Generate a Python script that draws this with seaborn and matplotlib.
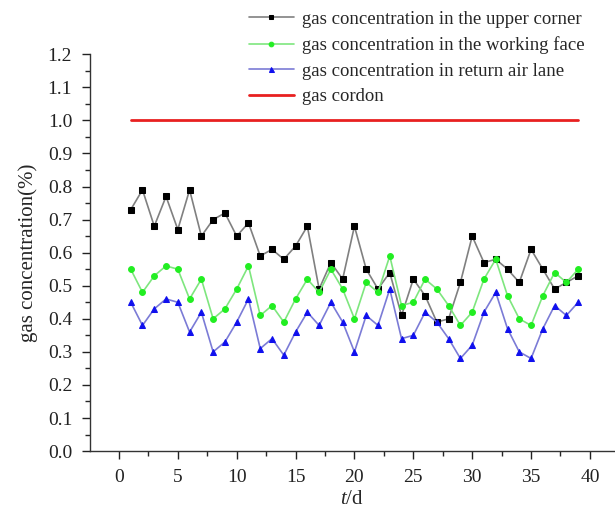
import matplotlib
matplotlib.use("Agg")
import matplotlib.pyplot as plt
import seaborn as sns
import numpy as np
import pandas as pd
from matplotlib.ticker import MultipleLocator

days = list(range(1, 40))
upper_corner = [0.73, 0.79, 0.68, 0.77, 0.67, 0.79, 0.65, 0.70, 0.72, 0.65,
                0.69, 0.59, 0.61, 0.58, 0.62, 0.68, 0.49, 0.57, 0.52, 0.68,
                0.55, 0.49, 0.54, 0.41, 0.52, 0.47, 0.39, 0.40, 0.51, 0.65,
                0.57, 0.58, 0.55, 0.51, 0.61, 0.55, 0.49, 0.51, 0.53]
working_face = [0.55, 0.48, 0.53, 0.56, 0.55, 0.46, 0.52, 0.40, 0.43, 0.49,
                0.56, 0.41, 0.44, 0.39, 0.46, 0.52, 0.48, 0.55, 0.49, 0.40,
                0.51, 0.48, 0.59, 0.44, 0.45, 0.52, 0.49, 0.44, 0.38, 0.42,
                0.52, 0.58, 0.47, 0.40, 0.38, 0.47, 0.54, 0.51, 0.55]
return_air = [0.45, 0.38, 0.43, 0.46, 0.45, 0.36, 0.42, 0.30, 0.33, 0.39,
              0.46, 0.31, 0.34, 0.29, 0.36, 0.42, 0.38, 0.45, 0.39, 0.30,
              0.41, 0.38, 0.49, 0.34, 0.35, 0.42, 0.39, 0.34, 0.28, 0.32,
              0.42, 0.48, 0.37, 0.30, 0.28, 0.37, 0.44, 0.41, 0.45]
cordon_days = [1, 39]
cordon = [1.0, 1.0]

labels = ["gas concentration in the upper corner",
          "gas concentration in the working face",
          "gas concentration in return air lane",
          "gas cordon"]

sns.set_style("ticks")
plt.rcParams['font.family'] = ['Liberation Serif', 'DejaVu Serif']
plt.rcParams['mathtext.fontset'] = 'custom'
plt.rcParams['mathtext.it'] = 'Liberation Serif:italic'
plt.rcParams['mathtext.rm'] = 'Liberation Serif'

fig = plt.figure(figsize=(6.15, 5.12), dpi=100)
ax = fig.add_axes([0.1463, 0.119, 0.852, 0.775])

sns.lineplot(x=days, y=upper_corner, ax=ax, color="#808080", lw=1.2,
             marker="s", markersize=3.8, markerfacecolor="black",
             markeredgecolor="black", label=labels[0])
sns.lineplot(x=days, y=working_face, ax=ax, color="#7ee67e", lw=1.2,
             marker="o", markersize=4.2, markerfacecolor="#22ee22",
             markeredgecolor="#22ee22", label=labels[1])
sns.lineplot(x=days, y=return_air, ax=ax, color="#7b7bd6", lw=1.2,
             marker="^", markersize=4.5, markerfacecolor="#1010ee",
             markeredgecolor="#1010ee", label=labels[2])
sns.lineplot(x=cordon_days, y=cordon, ax=ax, color="#e82020", lw=2,
             label=labels[3])

ax.set_xlim(-2.46, 42.04)
ax.set_ylim(0, 1.2)
ax.xaxis.set_major_locator(MultipleLocator(5))
ax.xaxis.set_minor_locator(MultipleLocator(2.5))
ax.yaxis.set_major_locator(MultipleLocator(0.1))
ax.yaxis.set_minor_locator(MultipleLocator(0.05))
ax.yaxis.set_major_formatter(matplotlib.ticker.FormatStrFormatter('%.1f'))
ax.tick_params(axis='both', which='major', direction='out', length=5.8,
               width=1, labelsize=14, colors='#222222')
ax.tick_params(axis='x', which='major', pad=7)
ax.tick_params(axis='y', which='major', pad=7)
ax.tick_params(axis='both', which='minor', direction='out', length=3.5, width=1)
for s in ['top', 'right']:
    ax.spines[s].set_visible(False)
for s in ['left', 'bottom']:
    ax.spines[s].set_color('#333333')
    ax.spines[s].set_linewidth(1)

ax.set_xlabel(r"$\it{t}$/d", fontsize=15, labelpad=3)
ax.set_ylabel("gas concentration(%)", fontsize=15, labelpad=7)

handles, lbls = ax.get_legend_handles_labels()
ax.get_legend().remove()
fig.legend(handles, lbls, loc="upper left", bbox_to_anchor=(0.377, 1.012),
           frameon=False, fontsize=13.5, handlelength=2.4, handletextpad=0.45,
           labelspacing=0.45, markerscale=0.8)

fig.savefig("out.png", dpi=100)
